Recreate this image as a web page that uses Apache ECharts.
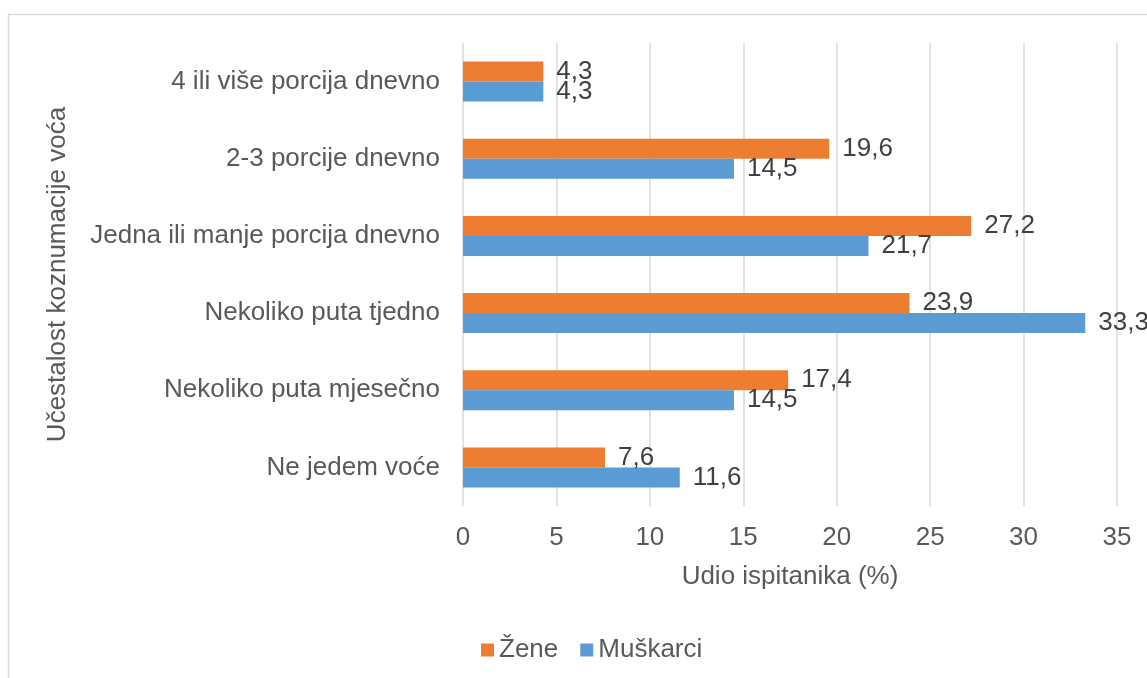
<!DOCTYPE html>
<html>
<head>
<meta charset="utf-8">
<script src="https://cdn.jsdelivr.net/npm/echarts@6/dist/echarts.min.js"></script>
<style>
  html, body { margin: 0; padding: 0; background: #fff; }
  #chart { width: 1147px; height: 678px; }
</style>
</head>
<body>
<div id="chart"></div>
<script>
// categories, bottom to top as on the axis
var categories = [
    'Ne jedem voće',
    'Nekoliko puta mjesečno',
    'Nekoliko puta tjedno',
    'Jedna ili manje porcija dnevno',
    '2-3 porcije dnevno',
    '4 ili više porcija dnevno'
];
var zene = [7.6, 17.4, 23.9, 27.2, 19.6, 4.3];
var muskarci = [11.6, 14.5, 33.3, 21.7, 14.5, 4.3];
var xTicks = [0, 5, 10, 15, 20, 25, 30, 35];

var font = '"Liberation Sans", Arial, sans-serif';
var textColor = '#595959';
var fs = 26;

var myChart = echarts.init(document.getElementById('chart'));

function commaLabel(p) {
    return String(p.value).replace('.', ',');
}

var option = {
    animation: false,
    textStyle: { fontFamily: font },
    graphic: [{
        type: 'rect',
        shape: { x: 8.5, y: 14.5, width: 1200, height: 700 },
        style: { fill: 'none', stroke: '#d9d9d9', lineWidth: 1.5 },
        silent: true
    }],
    grid: { left: 463, right: 30, top: 43, bottom: 172 },
    legend: {
        data: ['Žene', 'Muškarci'],
        left: 476,
        top: 632,
        itemWidth: 13,
        itemHeight: 13,
        itemGap: 22,
        icon: 'rect',
        textStyle: { fontSize: fs, color: textColor, fontFamily: font, padding: [0, 0, 0, 0] }
    },
    xAxis: {
        type: 'value',
        min: xTicks[0],
        max: xTicks[xTicks.length - 1],
        interval: 5,
        name: 'Udio ispitanika (%)',
        nameLocation: 'middle',
        nameGap: 58,
        nameTextStyle: { fontSize: fs, color: textColor },
        axisLine: { show: false },
        axisTick: { show: false },
        axisLabel: { fontSize: fs, color: textColor, margin: 19 },
        splitLine: { lineStyle: { color: '#d9d9d9', width: 1.5 } }
    },
    yAxis: {
        type: 'category',
        data: categories,
        name: 'Učestalost koznumacije voća',
        nameLocation: 'middle',
        nameGap: 392,
        nameRotate: 90,
        nameTextStyle: { fontSize: fs, color: textColor },
        axisLine: { show: false },
        axisTick: { show: false },
        axisLabel: { fontSize: fs, color: textColor, margin: 23 }
    },
    series: [
        {
            name: 'Žene',
            type: 'bar',
            data: zene,
            barWidth: 20,
            barGap: '0%',
            itemStyle: { color: '#ED7D31' },
            label: {
                show: true,
                position: 'right',
                distance: 13,
                fontSize: fs,
                color: '#404040',
                formatter: commaLabel
            }
        },
        {
            name: 'Muškarci',
            type: 'bar',
            data: muskarci,
            barWidth: 20,
            barGap: '0%',
            itemStyle: { color: '#5B9BD5' },
            label: {
                show: true,
                position: 'right',
                distance: 13,
                fontSize: fs,
                color: '#404040',
                formatter: commaLabel
            }
        }
    ]
};

myChart.setOption(option);
</script>
</body>
</html>
